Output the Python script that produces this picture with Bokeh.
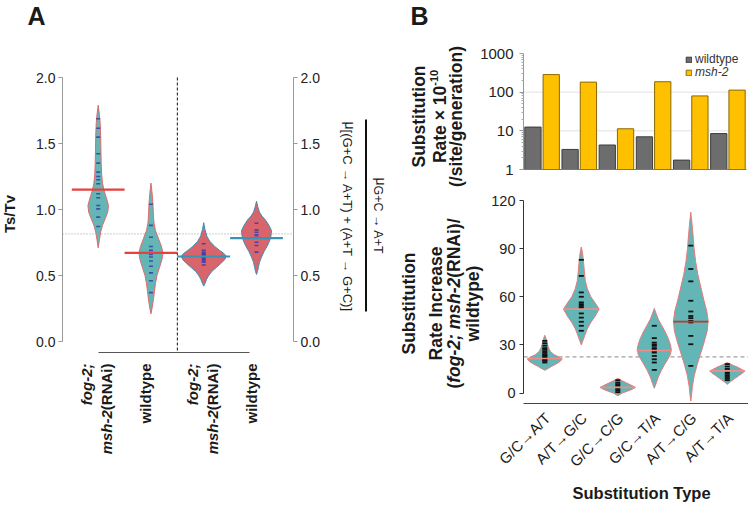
import math
import numpy as np
from bokeh.plotting import figure
from bokeh.models import (Label, LinearAxis, LogAxis, FixedTicker, PrintfTickFormatter,
                          Legend, LegendItem, Arrow, Range1d)
from bokeh.layouts import row, column
from bokeh.embed import file_html
from bokeh.resources import INLINE

FONT = "Liberation Sans"

# ======================= DATA =======================
# ---- Panel A : Ts/Tv violins ----
A_POS = [1, 2, 3, 4]
A_MEANS = [1.15, 0.671, 0.644, 0.783]
A_REF = 0.815
A_SPLIT = 2.5
A1_LEVELS = [1.79, 1.72, 1.65, 1.55, 1.45, 1.35, 1.27, 1.20, 1.14, 1.08, 1.03, 0.98, 0.93, 0.88, 0.83, 0.77, 0.71]
A1_DENS = [0, 1.2, 2.0, 2.5, 2.7, 3.0, 3.4, 4.3, 6.0, 8.5, 10.3, 9.5, 7.0, 4.3, 2.5, 1.2, 0]
A2_LEVELS = [1.20, 1.12, 1.04, 0.96, 0.90, 0.84, 0.78, 0.72, 0.67, 0.62, 0.56, 0.50, 0.44, 0.38, 0.32, 0.26, 0.21]
A2_DENS = [0, 1.2, 2.0, 2.4, 3.0, 4.5, 7.5, 10.5, 12.0, 11.0, 8.5, 6.0, 4.5, 3.5, 2.5, 1.3, 0]
A3_LEVELS = [0.90, 0.85, 0.80, 0.76, 0.72, 0.69, 0.665, 0.645, 0.62, 0.59, 0.56, 0.53, 0.50, 0.47, 0.44, 0.42]
A3_DENS = [0, 1.2, 3.0, 6.0, 11.0, 16.0, 20.5, 22.5, 21.0, 17.0, 12.5, 8.0, 5.0, 2.8, 1.3, 0]
A4_LEVELS = [1.063, 1.02, 0.98, 0.95, 0.92, 0.88, 0.84, 0.80, 0.76, 0.72, 0.68, 0.64, 0.60, 0.56, 0.53, 0.508]
A4_DENS = [0, 1.3, 3.0, 5.5, 9.0, 12.5, 15.0, 14.5, 13.0, 10.5, 7.5, 5.0, 3.0, 1.8, 1.0, 0]
A1_PTS = [1.687, 1.616, 1.548, 1.422, 1.351, 1.283, 1.25, 1.225, 1.195, 1.119, 1.089, 1.03, 1.005, 0.942, 0.871]
A2_PTS = [1.04, 0.88, 0.79, 0.72, 0.69, 0.67, 0.66, 0.64, 0.61, 0.57, 0.52, 0.46, 0.37]
A3_PTS = [0.74, 0.69, 0.675, 0.665, 0.66, 0.65, 0.64, 0.63, 0.62, 0.61, 0.60, 0.58]
A4_PTS = [0.896, 0.846, 0.828, 0.808, 0.79, 0.752, 0.727, 0.677]
A_TICKS = [0, 0.5, 1.0, 1.5, 2.0]

# ---- Panel B top : substitution rates (log) ----
B_CATS = ["G/C\u2192A/T", "A/T\u2192G/C", "G/C\u2192C/G", "G/C\u2192T/A", "A/T\u2192C/G", "A/T\u2192T/A"]
WT_RATE = [12.5, 3.3, 4.3, 7.0, 1.75, 8.5]
MSH_RATE = [285, 182, 11.3, 186, 80, 113]
BT_TICKS = [1, 10, 100, 1000]
BT_GRID = [10, 100]

# ---- Panel B bottom : rate increase violins ----
B_REF = 22.5
B_MEANS = [21.5, 52.3, 3.5, 26.5, 44.5, 13.8]
B1_LEVELS = [36, 34, 32, 30, 28, 26, 24, 22.5, 21, 19.5, 18, 16.5, 15, 14.2]
B1_DENS = [0, 1.2, 2.0, 2.8, 3.8, 5.5, 9.0, 14.0, 17.2, 15.0, 11.0, 6.5, 2.5, 0]
B2_LEVELS = [91, 87, 82, 76, 70, 65, 60, 56, 52.3, 48, 44, 40, 36, 33, 30]
B2_DENS = [0, 1.3, 2.2, 3.0, 4.0, 6.0, 9.5, 14.0, 17.8, 14.0, 9.5, 6.0, 3.5, 1.8, 0]
B3_LEVELS = [9.2, 8.0, 6.5, 5.0, 3.5, 2.5, 1.2, 0.0, -1.7]
B3_DENS = [0, 3.0, 8.0, 13.0, 17.5, 15.0, 10.0, 4.5, 0]
B4_LEVELS = [52.7, 50, 46, 42, 38, 34, 30, 27, 24, 21, 18, 14, 10, 6, 3]
B4_DENS = [0, 1.5, 4.0, 7.5, 11.0, 14.0, 16.2, 17.0, 16.0, 13.5, 10.5, 7.0, 4.0, 1.8, 0]
B5_LEVELS = [112.7, 105, 98, 90, 82, 74, 66, 58, 51, 45, 39, 32, 25, 18, 11, 4, -1, -5]
B5_DENS = [0, 1.3, 2.3, 3.3, 4.8, 7.0, 10.0, 13.0, 16.0, 17.3, 16.5, 13.5, 10.0, 6.5, 3.5, 1.6, 0.8, 0]
B6_LEVELS = [19, 17.5, 16, 14.5, 13.8, 12.5, 11, 9, 7, 5.4]
B6_DENS = [0, 5.0, 10.5, 15.0, 17.5, 15.5, 12.0, 7.5, 3.0, 0]
B1_PTS = [32.5, 31, 29.5, 28, 27, 26, 25, 24, 23.5, 23, 22, 21.5, 21, 20.5, 20, 19]
B2_PTS = [83, 73, 62.7, 60, 56.5, 55.4, 54.4, 53.5, 52.3, 49.6, 47, 44.4, 41.9, 38.8]
B3_PTS = [8, 6.5, 5.5, 4.5, 3.5, 2.5, 1.5, 0.5]
B4_PTS = [41.9, 34.2, 31.4, 30.2, 29.4, 28, 27.3, 26, 25.2, 23.1, 21, 19, 14.4]
B5_PTS = [91.9, 77.3, 69.6, 57.5, 50.8, 48, 46.7, 45, 44, 35.6, 30.4, 16.9]
B6_PTS = [18, 16.5, 15, 14, 13, 12, 11, 10, 9, 8]
BB_TICKS = [0, 30, 60, 90, 120]

# ======================= STYLE =======================
TEAL = "#63b6b5"
RED = "#d8646c"
TEAL_EDGE = "#e06a6a"
RED_EDGE = "#3f8fb3"
MEAN_RED = "#e8413c"
MEAN_BLUE = "#3a92b5"
DOT_A = "#3b3ba5"
GRAY_BAR = "#6d6d6d"
GOLD_BAR = "#ffc000"
TEXT_FIX = 8.0   # px correction of Label baseline placement

# Arial / Liberation Sans advance widths (per 1000 em)
REG = {' ': 278, '(': 333, ')': 333, '+': 584, '-': 333, '.': 278, '/': 278, ';': 278, '[': 278,
       ']': 278, '\u2192': 1000, '\u03bc': 576, '\u00d7': 584, 'A': 667, 'C': 722, 'G': 778,
       'I': 278, 'N': 722, 'R': 722, 'S': 667, 'T': 611, 'a': 556, 'b': 556, 'c': 500, 'd': 556,
       'e': 556, 'f': 278, 'g': 556, 'h': 556, 'i': 222, 'l': 222, 'm': 833, 'n': 556, 'o': 556,
       'p': 556, 'r': 333, 's': 500, 't': 278, 'u': 556, 'v': 500, 'w': 722, 'y': 500}
BOLD = {' ': 278, '(': 333, ')': 333, '+': 584, '-': 333, '.': 278, '/': 278, ';': 333, '[': 333,
        ']': 333, '\u2192': 1000, '\u03bc': 611, '\u00d7': 584, 'A': 722, 'C': 722, 'G': 778,
        'I': 278, 'N': 722, 'R': 722, 'S': 667, 'T': 611, 'a': 556, 'b': 611, 'c': 556, 'd': 611,
        'e': 556, 'f': 333, 'g': 611, 'h': 611, 'i': 278, 'l': 278, 'm': 889, 'n': 611, 'o': 611,
        'p': 611, 'r': 389, 's': 556, 't': 333, 'u': 611, 'v': 556, 'w': 778, 'y': 556}


def tw(text, style, size):
    table = BOLD if "bold" in style else REG
    return sum(table.get(ch, 556) for ch in text) * size / 1000.0


def edge_range(p0, v0, p1, v1, lo, hi):
    s = (v1 - v0) / (p1 - p0)
    return v0 + (lo - p0) * s, v0 + (hi - p0) * s


class Frame:
    """frame == whole canvas; maps page pixels <-> data of one figure"""
    def __init__(self, left, top, width, height, xr, yr, logy=False):
        self.l, self.t, self.w, self.h = left, top, width, height
        self.xr, self.yr, self.logy = xr, yr, logy

    def x(self, px):
        return self.xr[0] + (px - self.l) / self.w * (self.xr[1] - self.xr[0])

    def y(self, py):
        f = (self.t + self.h - py) / self.h
        if self.logy:
            a, b = math.log10(self.yr[0]), math.log10(self.yr[1])
            return 10 ** (a + f * (b - a))
        return self.yr[0] + f * (self.yr[1] - self.yr[0])

    def px(self, x):
        return self.l + (x - self.xr[0]) / (self.xr[1] - self.xr[0]) * self.w


def rich(p, fr, runs, px, py, angle, anchor="start", color="#1a1a1a"):
    widths = [tw(t, s, z) for t, s, z, _ in runs]
    total = sum(widths)
    dx, dy = math.cos(angle), -math.sin(angle)
    nx, ny = -math.sin(angle), -math.cos(angle)
    cum = {"start": 0.0, "center": -total / 2.0, "end": -total}[anchor]
    for (t, s, z, shift), w in zip(runs, widths):
        sh = shift + TEXT_FIX
        ax = px + cum * dx + sh * nx
        ay = py + cum * dy + sh * ny
        p.add_layout(Label(x=fr.x(ax), y=fr.y(ay), text=t, angle=angle, text_align="left",
                           text_baseline="alphabetic", text_font=FONT, text_font_size=f"{z}px",
                           text_font_style=s, text_color=color))
        cum += w


def violin_xy(center, levels, dens, scale, maxw):
    lv = np.array(levels, dtype=float)
    w = np.array(dens, dtype=float) / scale * maxw
    xs = list(center + w) + list(center - w[::-1])
    ys = list(lv) + list(lv[::-1])
    return xs, ys


def style_axis(ax, size, color="#999999", label_color="#222222", standoff=3):
    ax.axis_line_color = color
    ax.major_tick_line_color = color
    ax.major_tick_out = 4
    ax.major_tick_in = 0
    ax.minor_tick_line_color = None
    ax.major_label_text_font = FONT
    ax.major_label_text_font_size = size
    ax.major_label_text_color = label_color
    ax.major_label_standoff = standoff


def bare_axis(ax, color):
    ax.axis_line_color = color
    ax.major_tick_line_color = None
    ax.minor_tick_line_color = None
    ax.major_label_text_font_size = "0px"


def new_fig(w, h, xr, yr, logy=False):
    kw = dict(width=w, height=h, x_range=Range1d(*xr), y_range=Range1d(*yr),
              output_backend="svg", toolbar_location=None, x_axis_location=None,
              y_axis_location=None, min_border=0)
    if logy:
        kw["y_axis_type"] = "log"
    p = figure(**kw)
    p.grid.visible = False
    p.outline_line_color = None
    return p


# ======================= PANEL A =======================
WA, HA = 388, 506
AX = edge_range(97.7, 1, 256, 4, 0, WA)
ay_top, ay_bot = edge_range(341, 0, 77, 2, 0, HA)
AY = (ay_bot, ay_top)
fA = Frame(0, 0, WA, HA, AX, AY)
pA = new_fig(WA, HA, AX, AY)

A_LEFT, A_RIGHT, A_BASE = fA.x(62), fA.x(293), fA.y(352)
for loc in (A_LEFT, A_RIGHT):
    ax = LinearAxis(bounds=(0, 2), ticker=FixedTicker(ticks=A_TICKS), fixed_location=loc,
                    formatter=PrintfTickFormatter(format="%.1f"))
    style_axis(ax, "14px", standoff=3)
    pA.add_layout(ax, "left" if loc == A_LEFT else "right")
xb = LinearAxis(bounds=(1.0, 3.87), ticker=FixedTicker(ticks=[]), fixed_location=A_BASE)
bare_axis(xb, "#555555")
pA.add_layout(xb, "below")

pA.segment(x0=[A_LEFT], x1=[A_RIGHT], y0=[A_REF], y1=[A_REF], line_color="#999999",
           line_dash="1 2", line_width=1)
pA.segment(x0=[A_SPLIT], x1=[A_SPLIT], y0=[fA.y(350)], y1=[fA.y(75)], line_color="#111111",
           line_dash="3 2", line_width=1)

A_LEV = [A1_LEVELS, A2_LEVELS, A3_LEVELS, A4_LEVELS]
A_DEN = [A1_DENS, A2_DENS, A3_DENS, A4_DENS]
A_PTS = [A1_PTS, A2_PTS, A3_PTS, A4_PTS]
A_FILL = [TEAL, TEAL, RED, RED]
A_EDGE = [TEAL_EDGE, TEAL_EDGE, RED_EDGE, RED_EDGE]
A_MEANC = [MEAN_RED, MEAN_RED, MEAN_BLUE, MEAN_BLUE]
for i in range(4):
    xs, ys = violin_xy(A_POS[i], A_LEV[i], A_DEN[i], 22.5, 0.426)
    pA.patch(xs, ys, fill_color=A_FILL[i], line_color=A_EDGE[i], line_width=1)
    pA.scatter(x=[A_POS[i]] * len(A_PTS[i]), y=A_PTS[i], marker="dash", size=4,
               line_color=DOT_A, line_width=1.6, line_alpha=0.85)
pA.segment(x0=[c - 0.5 for c in A_POS], x1=[c + 0.5 for c in A_POS], y0=A_MEANS, y1=A_MEANS,
           line_color=A_MEANC, line_width=2.2)

rich(pA, fA, [("A", "bold", 25, 0)], 27, 23, 0)
rich(pA, fA, [("Ts/Tv", "bold", 15, 0)], 16.5, 213, math.pi / 2, "center")
for i, c in enumerate(A_POS):
    cx = fA.px(c)
    if i % 2 == 0:
        rich(pA, fA, [("fog-2;", "bold italic", 15, 0)], cx - 3.5, 363, math.pi / 2, "end")
        rich(pA, fA, [("msh-2", "bold italic", 15, 0), ("(RNAi)", "bold", 15, 0)],
             cx + 16.5, 363, math.pi / 2, "end")
    else:
        rich(pA, fA, [("wildtype", "bold", 15, 0)], cx + 3, 363, math.pi / 2, "end")
rich(pA, fA, [("\u03bc", "normal", 14, 0),
              ("[(G+C \u2192 A+T) + (A+T \u2192 G+C)]", "normal", 13, -2.5)],
     341.5, 121, -math.pi / 2, "start")
rich(pA, fA, [("\u03bc", "normal", 14, 0), ("G+C \u2192 A+T", "normal", 12.5, -2.5)],
     372, 177, -math.pi / 2, "start")
pA.add_layout(Arrow(end=None, x_start=fA.x(365.5), y_start=fA.y(119), x_end=fA.x(365.5),
                    y_end=fA.y(311), line_width=2, line_color="#111111"))

# ======================= PANEL B top =======================
BL = WA
WB, HBT, HBB = 748 - WA, 188, 318
BTX = edge_range(523, 0, 746, 6, BL, BL + WB)
lt, lb = edge_range(169, 0, 53, 3, 0, HBT)
BTY = (10 ** lb, 10 ** lt)
fBt = Frame(BL, 0, WB, HBT, BTX, BTY, logy=True)
pBt = new_fig(WB, HBT, BTX, BTY, logy=True)

gx = np.arange(len(B_CATS))
pBt.segment(x0=[0] * len(BT_GRID), x1=[len(B_CATS)] * len(BT_GRID), y0=BT_GRID, y1=BT_GRID,
            line_color="#e2e2e2", line_width=1)
minor = [m * d for d in (1, 10, 100) for m in range(2, 10)]
lay = LogAxis(bounds=(1, 1000), ticker=FixedTicker(ticks=BT_TICKS, minor_ticks=minor),
              formatter=PrintfTickFormatter(format="%d"), fixed_location=0)
style_axis(lay, "15px", color="#999999", standoff=6)
lay.minor_tick_line_color = "#aaaaaa"
lay.minor_tick_out = 2
lay.minor_tick_in = 0
pBt.add_layout(lay, "left")
bxa = LinearAxis(bounds=(0, len(B_CATS)), ticker=FixedTicker(ticks=[]), fixed_location=1)
bare_axis(bxa, "#777777")
pBt.add_layout(bxa, "below")

r_wt = pBt.vbar(x=gx + 0.254, top=WT_RATE, bottom=1, width=0.438,
                fill_color=GRAY_BAR, line_color="#3d3d3d", line_width=1)
r_ms = pBt.vbar(x=gx + 0.746, top=MSH_RATE, bottom=1, width=0.438,
                fill_color=GOLD_BAR, line_color="#8a6a00", line_width=1)
for lab, rend, fs, ly in (("wildtype", r_wt, "normal", 122), ("msh-2", r_ms, "italic", 109)):
    lg = Legend(items=[LegendItem(label=lab, renderers=[rend])], location=(685 - BL, ly),
                glyph_width=7, glyph_height=7, label_height=11, label_standoff=3,
                padding=0, margin=0, spacing=0, border_line_color=None,
                background_fill_alpha=0, label_text_font=FONT, label_text_font_size="12px",
                label_text_font_style=fs, label_text_color="#333333")
    pBt.add_layout(lg)

rich(pBt, fBt, [("B", "bold", 25, 0)], 410, 23, 0)
rich(pBt, fBt, [("Substitution", "bold", 17.5, 0)], 426.5, 116, math.pi / 2, "center")
rich(pBt, fBt, [("Rate \u00d7 10", "bold", 17.5, 0), ("-10", "bold", 11, 6)],
     447.5, 116, math.pi / 2, "center")
rich(pBt, fBt, [("(/site/generation)", "bold", 17.5, 0)], 463, 116, math.pi / 2, "center")

# ======================= PANEL B bottom =======================
BBX = edge_range(544.3, 0.5, 726.8, 5.5, BL, BL + WB)
bt_, bb_ = edge_range(392.5, 0, 200, 120, HBT, HBT + HBB)
BBY = (bb_, bt_)
fBb = Frame(BL, HBT, WB, HBB, BBX, BBY)
pBb = new_fig(WB, HBB, BBX, BBY)

B_LEFT, B_BASE, B_END = fBb.x(523), fBb.y(403), fBb.x(748)
yl = LinearAxis(bounds=(0, 120), ticker=FixedTicker(ticks=BB_TICKS), fixed_location=B_LEFT)
style_axis(yl, "14.5px", color="#333333", standoff=4)
pBb.add_layout(yl, "left")
xl = LinearAxis(bounds=(B_LEFT, B_END), ticker=FixedTicker(ticks=[]), fixed_location=B_BASE)
bare_axis(xl, "#444444")
pBb.add_layout(xl, "below")

bx = gx + 0.5
pBb.segment(x0=[B_LEFT], x1=[B_END], y0=[B_REF], y1=[B_REF], line_color="#888888",
            line_dash="4 3", line_width=1)
B_LEV = [B1_LEVELS, B2_LEVELS, B3_LEVELS, B4_LEVELS, B5_LEVELS, B6_LEVELS]
B_DEN = [B1_DENS, B2_DENS, B3_DENS, B4_DENS, B5_DENS, B6_DENS]
B_PTS = [B1_PTS, B2_PTS, B3_PTS, B4_PTS, B5_PTS, B6_PTS]
for i in range(6):
    xs, ys = violin_xy(bx[i], B_LEV[i], B_DEN[i], 17.8, 0.488)
    pBb.patch(xs, ys, fill_color=TEAL, line_color="#e87a7a", line_width=1)
    pBb.scatter(x=[bx[i]] * len(B_PTS[i]), y=B_PTS[i], marker="dash", size=5,
                line_color="#111111", line_width=1.8)
B_MEANC = ["#f08c8c", "#f08c8c", "#f08c8c", "#f08c8c", "#c0392b", "#f08c8c"]
pBb.segment(x0=list(bx - 0.48), x1=list(bx + 0.48), y0=B_MEANS, y1=B_MEANS,
            line_color=B_MEANC, line_width=1.6)

for i, cat in enumerate(B_CATS):
    cx = fBb.px(bx[i])
    rich(pBb, fBb, [(cat, "normal", 15, 0)], cx + 8.5, 420.6, math.pi / 4, "end")

rich(pBb, fBb, [("Substitution", "bold", 17.5, 0)], 416.5, 303, math.pi / 2, "center")
rich(pBb, fBb, [("Rate Increase", "bold", 17.5, 0)], 443, 303, math.pi / 2, "center")
rich(pBb, fBb, [("(", "bold", 17.5, 0), ("fog-2; msh-2", "bold italic", 17.5, 0),
                ("(RNAi)/", "bold", 17.5, 0)], 461, 303, math.pi / 2, "center")
rich(pBb, fBb, [("wildtype)", "bold", 17.5, 0)], 480, 303, math.pi / 2, "center")
rich(pBb, fBb, [("Substitution Type", "bold", 16.5, 0)], 641.7, 500, 0, "center")

layout = row(pA, column(pBt, pBb))
open("out.html", "w").write(file_html(layout, INLINE))
